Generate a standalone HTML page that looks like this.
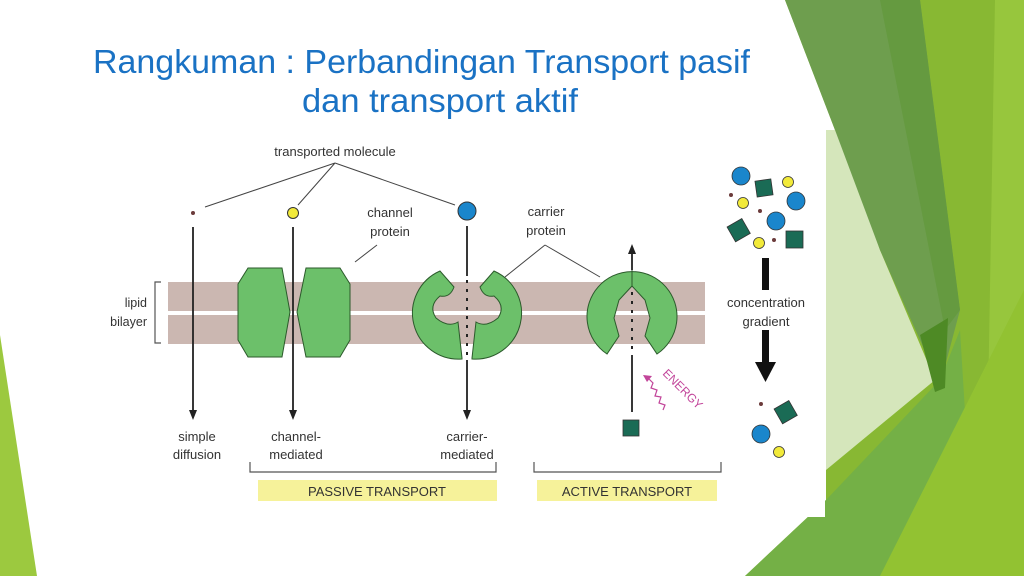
<!DOCTYPE html>
<html><head><style>
html,body{margin:0;padding:0;background:#fff;}
svg{display:block;}
text{font-family:"Liberation Sans",sans-serif;}
</style></head><body>
<svg width="1024" height="576" viewBox="0 0 1024 576" xmlns="http://www.w3.org/2000/svg">
<rect width="1024" height="576" fill="#fff"/>
<!-- background decorations -->
<polygon points="0,335 0,576 37,576" fill="#9cc93f"/>
<polygon points="785,0 1024,0 1024,576 745,576 826,500 826,130 835,130" fill="#88b833"/>
<polygon points="995,0 1024,0 1024,576 985,576" fill="#97c63d"/>
<polygon points="826,130 840,130 880,250 935,380 826,470" fill="#d5e6bb"/>
<polygon points="785,0 920,0 960,310 940,385 880,250 835,130" fill="#6e9e4e"/>
<polygon points="880,0 920,0 960,310 945,330" fill="#659a40"/>
<polygon points="745,576 826,500 940,380 960,330 975,576" fill="#74b046"/>
<polygon points="880,576 1024,290 1024,576" fill="#92c232"/>
<polygon points="920,335 948,318 945,388 935,392" fill="#4e8a25"/>
<!-- diagram white box -->
<rect x="150" y="130" width="675" height="387" fill="#fff"/>
<!-- title -->
<text x="93" y="73" font-size="33" fill="#1a72c4" textLength="657" lengthAdjust="spacingAndGlyphs">Rangkuman : Perbandingan Transport pasif</text>
<text x="302" y="112" font-size="33" fill="#1a72c4" textLength="276" lengthAdjust="spacingAndGlyphs">dan transport aktif</text>

<!-- bilayer -->
<rect x="168" y="282" width="537" height="29" fill="#cbb7b1"/>
<rect x="168" y="315" width="537" height="29" fill="#cbb7b1"/>
<path d="M161,282 H155 V343 H161" fill="none" stroke="#555" stroke-width="1.2"/>
<text x="147" y="307" font-size="12.5" fill="#333" text-anchor="end">lipid</text>
<text x="147" y="326" font-size="12.5" fill="#333" text-anchor="end">bilayer</text>

<!-- labels top -->
<text x="335" y="156" font-size="13" fill="#333" text-anchor="middle">transported molecule</text>
<g stroke="#444" stroke-width="1" fill="none">
<path d="M335,163 L205,207 M335,163 L298,205 M335,163 L455,205"/>
<path d="M355,262 L377,245"/>
<path d="M545,245 L505,277 M545,245 L600,277"/>
</g>
<text x="390" y="217" font-size="13" fill="#333" text-anchor="middle">channel</text>
<text x="390" y="236" font-size="13" fill="#333" text-anchor="middle">protein</text>
<text x="546" y="216" font-size="13" fill="#333" text-anchor="middle">carrier</text>
<text x="546" y="235" font-size="13" fill="#333" text-anchor="middle">protein</text>

<!-- molecules -->
<circle cx="193" cy="213" r="2" fill="#6b3b3b"/>
<circle cx="293" cy="213" r="5.5" fill="#f2ea3a" stroke="#333" stroke-width="1"/>
<circle cx="467" cy="211" r="9" fill="#1a86cc" stroke="#333" stroke-width="1"/>

<!-- channel proteins -->
<polygon points="248,268 282,268 290,312 282,357 248,357 238,340 238,284" fill="#6cc06a" stroke="#2b5a2b" stroke-width="1"/>
<polygon points="306,268 340,268 350,284 350,340 340,357 306,357 297,312" fill="#6cc06a" stroke="#2b5a2b" stroke-width="1"/>

<!-- carrier 1 -->
<path d="M462,359 A46,46 0 0 1 440,271 L454,287 Q450,298 440,296 Q428,306 436,318 Q448,328 458,322 L462,358 Z" fill="#6cc06a" stroke="#2b5a2b" stroke-width="1"/>
<path d="M472,359 A46,46 0 0 0 494,271 L480,287 Q484,298 494,296 Q506,306 498,318 Q486,328 476,322 L472,358 Z" fill="#6cc06a" stroke="#2b5a2b" stroke-width="1"/>

<!-- carrier 2 -->
<path d="M607,354 A45,45 0 1 1 657,354 L645,336 L650,318 L645,300 L632,286 L619,300 L614,318 L619,336 Z" fill="#6cc06a" stroke="#2b5a2b" stroke-width="1"/>
<line x1="632" y1="270" x2="632" y2="286" stroke="#2b5a2b" stroke-width="1"/>

<!-- arrows -->
<g stroke="#222" stroke-width="1.8">
<line x1="193" y1="227" x2="193" y2="412"/>
<line x1="293" y1="227" x2="293" y2="412"/>
<line x1="467" y1="226" x2="467" y2="276"/>
<line x1="467" y1="360" x2="467" y2="412"/>
<line x1="632" y1="252" x2="632" y2="270"/>
<line x1="632" y1="355" x2="632" y2="412"/>
</g>
<g stroke="#222" stroke-width="2" stroke-dasharray="3,6">
<line x1="467" y1="280" x2="467" y2="358"/>
<line x1="632" y1="292" x2="632" y2="352"/>
</g>
<g fill="#222">
<polygon points="189,410 197,410 193,420"/>
<polygon points="289,410 297,410 293,420"/>
<polygon points="463,410 471,410 467,420"/>
<polygon points="628,254 636,254 632,244"/>
</g>
<rect x="623" y="420" width="16" height="16" fill="#1a6b55" stroke="#333" stroke-width="0.8"/>

<!-- energy -->
<text x="662" y="374" font-size="12" fill="#c2459a" transform="rotate(45 662 374)">ENERGY</text>
<path d="M648,378 l5,5 l-2,5 l6,2 l-2,6 l6,1 l-2,6 l6,2 l-2,5" fill="none" stroke="#c2459a" stroke-width="1.2"/>
<polygon points="643,375 652,376 647,382" fill="#c2459a"/>

<!-- bottom labels -->
<g font-size="13" fill="#333" text-anchor="middle">
<text x="197" y="441">simple</text><text x="197" y="459">diffusion</text>
<text x="296" y="441">channel-</text><text x="296" y="459">mediated</text>
<text x="467" y="441">carrier-</text><text x="467" y="459">mediated</text>
</g>
<path d="M250,462 V472 H496 V462" fill="none" stroke="#555" stroke-width="1.2"/>
<path d="M534,462 V472 H721 V462" fill="none" stroke="#555" stroke-width="1.2"/>
<rect x="258" y="480" width="239" height="21" fill="#f6f29a"/>
<rect x="537" y="480" width="180" height="21" fill="#f6f29a"/>
<text x="377" y="496" font-size="13" fill="#333" text-anchor="middle">PASSIVE TRANSPORT</text>
<text x="627" y="496" font-size="13" fill="#333" text-anchor="middle">ACTIVE TRANSPORT</text>

<!-- right column -->
<g stroke="#333" stroke-width="0.8">
<circle cx="741" cy="176" r="9" fill="#1a86cc"/>
<rect x="756" y="180" width="16" height="16" fill="#1a6b55" transform="rotate(-8 764 188)"/>
<circle cx="788" cy="182" r="5.5" fill="#f2ea3a"/>
<circle cx="743" cy="203" r="5.5" fill="#f2ea3a"/>
<circle cx="796" cy="201" r="9" fill="#1a86cc"/>
<circle cx="776" cy="221" r="9" fill="#1a86cc"/>
<rect x="730" y="222" width="17" height="17" fill="#1a6b55" transform="rotate(-30 738 230)"/>
<circle cx="759" cy="243" r="5.5" fill="#f2ea3a"/>
<rect x="786" y="231" width="17" height="17" fill="#1a6b55"/>
<rect x="777" y="404" width="17" height="17" fill="#1a6b55" transform="rotate(-30 785 412)"/>
<circle cx="761" cy="434" r="9" fill="#1a86cc"/>
<circle cx="779" cy="452" r="5.5" fill="#f2ea3a"/>
</g>
<g fill="#6b3b3b"><circle cx="731" cy="195" r="2"/><circle cx="760" cy="211" r="2"/><circle cx="774" cy="240" r="2"/><circle cx="761" cy="404" r="2"/></g>
<rect x="762" y="258" width="7" height="32" fill="#111"/>
<rect x="762" y="330" width="7" height="34" fill="#111"/>
<polygon points="755,362 776,362 765.5,382" fill="#111"/>
<text x="766" y="307" font-size="13" fill="#333" text-anchor="middle">concentration</text>
<text x="766" y="326" font-size="13" fill="#333" text-anchor="middle">gradient</text>
</svg>
</body></html>
